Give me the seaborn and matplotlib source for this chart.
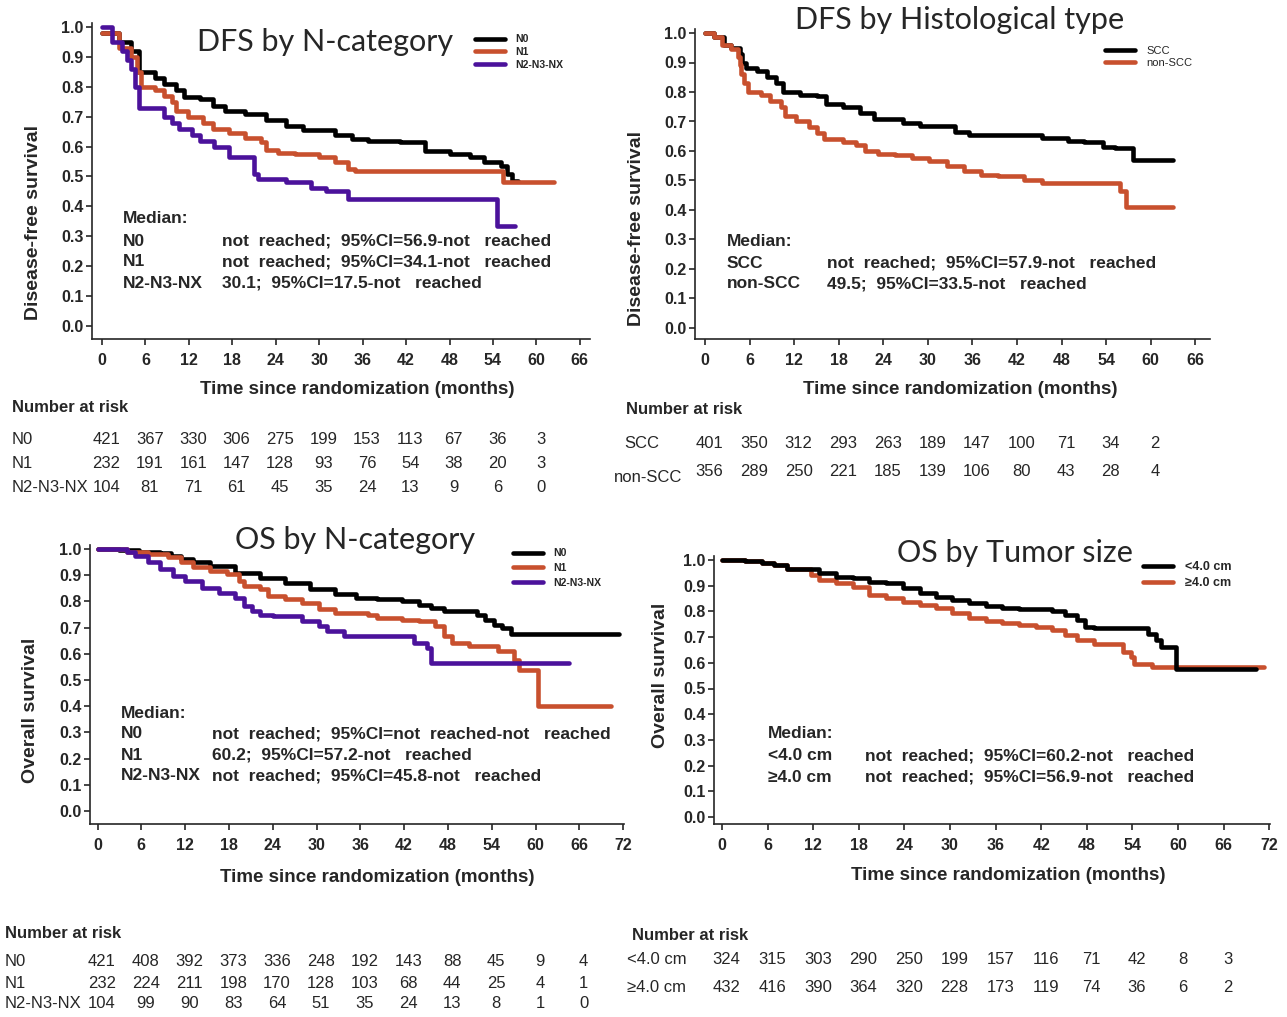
import numpy as np
import pandas as pd
import matplotlib
matplotlib.use("Agg")
import matplotlib.pyplot as plt
import matplotlib.transforms as mtrans
import seaborn as sns

sns.set_style("ticks")
plt.rcParams["font.family"] = ["Liberation Sans", "DejaVu Sans"]

#------------------------
# data
#------------------------
BLACK = "#000000"
ORANGE = "#c8502e"
PURPLE = "#4b129b"

# DFS by N-category
dfs_n0_t = [0, 2.3, 4.0, 5.1, 7.3, 8.5, 10.2, 11.3, 13.6, 15.3, 17.0, 19.8, 22.6, 25.4, 27.7,
            32.2, 34.5, 36.7, 41.2, 44.6, 48.0, 50.8, 52.8, 55.1, 56.0, 56.6, 57.5]
dfs_n0_s = [0.98, 0.95, 0.92, 0.85, 0.83, 0.81, 0.79, 0.765, 0.76, 0.735, 0.72, 0.71, 0.69, 0.67, 0.655,
            0.64, 0.625, 0.62, 0.615, 0.585, 0.575, 0.565, 0.55, 0.535, 0.51, 0.485, 0.485]
dfs_n1_t = [0, 2.3, 4.0, 4.8, 5.4, 7.3, 8.5, 9.6, 10.2, 11.9, 14.0, 15.3, 17.5, 19.8, 22.0, 22.6,
            24.3, 26.6, 30.0, 32.2, 34.0, 35.0, 55.4, 62.4]
dfs_n1_s = [0.98, 0.93, 0.90, 0.85, 0.80, 0.79, 0.77, 0.75, 0.72, 0.70, 0.68, 0.66, 0.645, 0.63, 0.615, 0.59,
            0.58, 0.575, 0.565, 0.55, 0.525, 0.52, 0.48, 0.48]
dfs_n2_t = [0, 1.4, 2.8, 3.4, 4.0, 4.5, 5.1, 8.5, 9.6, 10.7, 12.4, 13.6, 15.5, 17.5, 21.0, 21.6,
            25.4, 28.8, 31.0, 34.0, 54.5, 57.0]
dfs_n2_s = [1.0, 0.95, 0.92, 0.89, 0.86, 0.80, 0.73, 0.70, 0.68, 0.66, 0.64, 0.62, 0.60, 0.565, 0.51, 0.49,
            0.48, 0.46, 0.45, 0.425, 0.335, 0.335]

# DFS by histological type
dfs_scc_t = [0, 1.2, 2.6, 3.5, 4.7, 5.0, 5.5, 7.0, 8.4, 9.6, 10.5, 12.8, 15.1, 16.3, 18.6, 20.9, 22.7,
             26.7, 29.0, 33.7, 35.5, 45.3, 48.8, 51.0, 53.5, 55.2, 57.6, 63.0]
dfs_scc_s = [1.0, 0.985, 0.96, 0.95, 0.93, 0.90, 0.88, 0.87, 0.85, 0.83, 0.80, 0.79, 0.785, 0.76, 0.75, 0.73, 0.71,
             0.695, 0.685, 0.665, 0.655, 0.645, 0.635, 0.63, 0.615, 0.61, 0.57, 0.57]
dfs_non_t = [0, 1.2, 2.3, 3.5, 4.4, 4.7, 4.9, 5.2, 5.8, 7.6, 8.7, 10.2, 10.8, 12.2, 14.0, 15.1, 16.0,
             18.6, 20.3, 21.5, 23.3, 25.6, 27.9, 30.2, 32.6, 34.9, 37.2, 39.5, 43.0, 45.3, 55.8, 56.7, 63.0]
dfs_non_s = [1.0, 0.985, 0.96, 0.945, 0.92, 0.89, 0.86, 0.83, 0.80, 0.79, 0.77, 0.75, 0.72, 0.70, 0.68, 0.66, 0.64,
             0.63, 0.62, 0.60, 0.59, 0.585, 0.575, 0.565, 0.548, 0.531, 0.52, 0.514, 0.503, 0.49, 0.465, 0.41, 0.41]

# OS by N-category
os_n0_t = [0, 2.9, 5.7, 8.6, 10.0, 11.4, 13.1, 15.4, 18.9, 22.3, 25.7, 29.1, 32.6, 35.4, 38.3, 41.7,
           44.0, 45.7, 47.4, 49.7, 52.0, 53.1, 54.3, 55.4, 56.6, 71.4]
os_n0_s = [1.0, 0.995, 0.99, 0.985, 0.974, 0.96, 0.949, 0.936, 0.91, 0.89, 0.872, 0.846, 0.827, 0.814, 0.808, 0.80,
           0.788, 0.776, 0.765, 0.763, 0.75, 0.73, 0.71, 0.70, 0.676, 0.676]
os_n1_t = [0, 4.0, 6.9, 9.7, 11.4, 13.1, 15.4, 17.7, 19.4, 20.0, 22.3, 23.4, 25.7, 28.0, 30.3, 32.6,
           37.1, 38.3, 41.7, 44.0, 46.3, 47.4, 48.6, 50.9, 54.9, 57.1, 57.7, 60.3, 70.3]
os_n1_s = [1.0, 0.99, 0.98, 0.968, 0.95, 0.93, 0.917, 0.904, 0.878, 0.86, 0.846, 0.82, 0.808, 0.795, 0.77, 0.756,
           0.75, 0.737, 0.73, 0.724, 0.705, 0.667, 0.641, 0.628, 0.609, 0.577, 0.538, 0.40, 0.40]
os_n2_t = [0, 4.0, 5.1, 6.9, 8.6, 10.3, 12.0, 14.3, 16.6, 18.9, 20.0, 21.1, 22.3, 24.0, 28.0, 30.3,
           31.4, 33.7, 43.4, 45.1, 45.7, 64.6]
os_n2_s = [1.0, 0.99, 0.974, 0.949, 0.923, 0.897, 0.878, 0.853, 0.833, 0.814, 0.782, 0.763, 0.75, 0.746, 0.724, 0.705,
           0.686, 0.667, 0.641, 0.622, 0.564, 0.564]

# OS by tumor size
os_small_t = [0, 3.0, 5.2, 6.8, 8.5, 12.8, 15.0, 17.2, 19.4, 21.6, 23.8, 26.0, 28.1, 30.3, 32.5, 34.7,
              36.9, 39.1, 43.4, 45.1, 46.7, 47.8, 48.9, 56.0, 57.1, 57.7, 59.8, 70.2]
os_small_s = [1.0, 0.997, 0.99, 0.98, 0.964, 0.948, 0.935, 0.929, 0.916, 0.909, 0.89, 0.87, 0.857, 0.844, 0.831, 0.82,
              0.814, 0.808, 0.80, 0.786, 0.766, 0.74, 0.734, 0.714, 0.688, 0.662, 0.574, 0.574]
os_large_t = [0, 3.0, 5.2, 6.8, 8.5, 11.7, 12.8, 15.0, 17.2, 19.4, 21.6, 23.8, 26.0, 28.1, 30.3, 32.5,
              34.7, 36.9, 39.1, 41.3, 43.4, 45.1, 46.7, 48.9, 52.7, 53.8, 54.2, 56.6, 71.3]
os_large_s = [1.0, 0.997, 0.99, 0.98, 0.964, 0.942, 0.922, 0.909, 0.896, 0.864, 0.851, 0.838, 0.825, 0.812, 0.792, 0.773,
              0.764, 0.756, 0.747, 0.74, 0.727, 0.708, 0.69, 0.675, 0.643, 0.623, 0.597, 0.584, 0.584]

# numbers at risk
risk_dfs_n = {"N0": [421, 367, 330, 306, 275, 199, 153, 113, 67, 36, 3],
              "N1": [232, 191, 161, 147, 128, 93, 76, 54, 38, 20, 3],
              "N2-N3-NX": [104, 81, 71, 61, 45, 35, 24, 13, 9, 6, 0]}
risk_dfs_h = {"SCC": [401, 350, 312, 293, 263, 189, 147, 100, 71, 34, 2],
              "non-SCC": [356, 289, 250, 221, 185, 139, 106, 80, 43, 28, 4]}
risk_os_n = {"N0": [421, 408, 392, 373, 336, 248, 192, 143, 88, 45, 9, 4],
             "N1": [232, 224, 211, 198, 170, 128, 103, 68, 44, 25, 4, 1],
             "N2-N3-NX": [104, 99, 90, 83, 64, 51, 35, 24, 13, 8, 1, 0]}
risk_os_t = {"<4.0 cm": [324, 315, 303, 290, 250, 199, 157, 116, 71, 42, 8, 3],
             "\u22654.0 cm": [432, 416, 390, 364, 320, 228, 173, 119, 74, 36, 6, 2]}

W, H = 1287, 1017
fig = plt.figure(figsize=(W / 100, H / 100), dpi=100)


def fx(x):
    return x / W


def fy(y):
    return 1 - y / H


def ftext(x, y, s, **kw):
    kw.setdefault("va", "center")
    kw.setdefault("ha", "left")
    fig.text(fx(x), fy(y), s, **kw)


def km_axes(t0, pxm, y1, y0, left, right, bottom, tmax, ylab):
    top = y1 - 4
    ax = fig.add_axes([fx(left), fy(bottom), (right - left) / W, (bottom - top) / H])
    ax.set_xlim((left - t0) / pxm, (right - t0) / pxm)
    ppu = y0 - y1
    ax.set_ylim(-(bottom - y0) / ppu, 1 + (y1 - top) / ppu)
    ax.set_xticks(np.arange(0, tmax + 1, 6))
    ax.set_yticks(np.round(np.arange(0, 1.01, 0.1), 1))
    ax.set_yticklabels([f"{v:.1f}" for v in np.arange(0, 1.01, 0.1)])
    ax.tick_params(axis="both", direction="out", length=4, width=1.2, labelsize=11.5)
    ax.tick_params(axis="x", pad=6)
    ax.tick_params(axis="y", pad=2)
    for lab in ax.get_xticklabels() + ax.get_yticklabels():
        lab.set_fontweight("bold")
    sns.despine(ax=ax)
    ax.spines["left"].set_linewidth(1.2)
    ax.spines["bottom"].set_linewidth(1.2)
    ax.set_ylabel(ylab, fontsize=14, fontweight="bold")
    ax.set_xlabel("Time since randomization (months)", fontsize=13.5, fontweight="bold")
    return ax


def place_labels(ax, ylx, yly, xlx, xly):
    # label coords: ylabel anchored on its right edge, xlabel on its top edge
    ax.yaxis.set_label_coords(fx(ylx + 9), fy(yly), transform=fig.transFigure)
    ax.xaxis.set_label_coords(fx(xlx), fy(xly - 9), transform=fig.transFigure)


def curves(ax, groups):
    for name, t, s, c in groups:
        sns.lineplot(x=t, y=s, color=c, lw=3.3, drawstyle="steps-post", estimator=None,
                     ax=ax, label=name, clip_on=False)


def km_legend(ax, order, x, yc, size, weight, spacing):
    h, l = ax.get_legend_handles_labels()
    d = dict(zip(l, h))
    ax.legend([d[k] for k in order], order, loc="center left",
              bbox_to_anchor=(fx(x), fy(yc)), bbox_transform=fig.transFigure,
              frameon=False, borderpad=0, borderaxespad=0, handlelength=30 / (size * 1.39),
              handletextpad=1.0, labelspacing=spacing,
              prop={"size": size, "weight": weight})


def risk_table(ax, table, x_lab, title_y, rows_y, title_x, lab_x=None):
    tr = mtrans.blended_transform_factory(ax.transData, fig.transFigure)
    ftext(title_x, title_y, "Number at risk", fontsize=12, fontweight="bold")
    for i, (name, vals) in enumerate(table.items()):
        lx = x_lab if lab_x is None else lab_x[i]
        ly = rows_y[i] if lab_x is None else rows_y[i] + (5 if i == 1 else 0)
        ftext(lx, ly, name, fontsize=12)
        for k, v in enumerate(vals):
            ax.text(6 * k + 0.6, fy(rows_y[i]), str(v), transform=tr, ha="center", va="center",
                    fontsize=12, clip_on=False)


def median_block(x1, x2, ys, rows):
    ftext(x1, ys[0], "Median:", fontsize=12.5, fontweight="bold")
    for y, (a, b) in zip(ys[1:], rows):
        ftext(x1, y, a, fontsize=12.5, fontweight="bold")
        ftext(x2, y, b, fontsize=12.5, fontweight="bold")


title_font = dict(fontsize=22, family=["Lato", "DejaVu Sans"], ha="center", va="center")

# ---------------- panel 1: DFS by N-category
ax1 = km_axes(102, 7.24, 27, 326, 92, 590, 339, 66, "Disease-free survival")
curves(ax1, [("N0", dfs_n0_t, dfs_n0_s, BLACK), ("N1", dfs_n1_t, dfs_n1_s, ORANGE),
             ("N2-N3-NX", dfs_n2_t, dfs_n2_s, PURPLE)])
km_legend(ax1, ["N0", "N1", "N2-N3-NX"], 475, 52, 7.5, "bold", 0.25)
place_labels(ax1, 33, 222, 357, 390)
ftext(325, 42, "DFS by N-category", **title_font)
median_block(123, 222, [218, 241, 262, 283],
             [("N0", "not  reached;  95%CI=56.9-not   reached"),
              ("N1", "not  reached;  95%CI=34.1-not   reached"),
              ("N2-N3-NX", "30.1;  95%CI=17.5-not   reached")])
risk_table(ax1, risk_dfs_n, 12, 407, [440, 464, 488], 12)

# ---------------- panel 2: DFS by histological type
ax2 = km_axes(705, 7.43, 33, 328, 695, 1210, 339, 66, "Disease-free survival")
curves(ax2, [("SCC", dfs_scc_t, dfs_scc_s, BLACK), ("non-SCC", dfs_non_t, dfs_non_s, ORANGE)])
km_legend(ax2, ["SCC", "non-SCC"], 1105, 57, 8, "normal", 0.2)
place_labels(ax2, 636, 228, 960, 390)
ftext(960, 20, "DFS by Histological type", **title_font)
median_block(727, 827, [241, 263, 284],
             [("SCC", "not  reached;  95%CI=57.9-not   reached"),
              ("non-SCC", "49.5;  95%CI=33.5-not   reached")])
risk_table(ax2, risk_dfs_h, 624, 409, [443, 472], 626, lab_x=[624, 614])

# ---------------- panel 3: OS by N-category
ax3 = km_axes(97.5, 7.3, 549, 811, 90, 624, 824, 72, "Overall survival")
curves(ax3, [("N0", os_n0_t, os_n0_s, BLACK), ("N1", os_n1_t, os_n1_s, ORANGE),
             ("N2-N3-NX", os_n2_t, os_n2_s, PURPLE)])
km_legend(ax3, ["N0", "N1", "N2-N3-NX"], 513, 568, 7.5, "bold", 0.45)
place_labels(ax3, 30, 710, 377, 878)
ftext(355, 540, "OS by N-category", **title_font)
median_block(121, 212, [713, 734, 755, 776],
             [("N0", "not  reached;  95%CI=not  reached-not   reached"),
              ("N1", "60.2;  95%CI=57.2-not   reached"),
              ("N2-N3-NX", "not  reached;  95%CI=45.8-not   reached")])
risk_table(ax3, risk_os_n, 5, 934, [961, 983, 1004], 5)

# ---------------- panel 4: OS by tumor size
ax4 = km_axes(722, 7.6, 560, 817, 714, 1270, 824, 72, "Overall survival")
curves(ax4, [("\u22654.0 cm", os_large_t, os_large_s, ORANGE), ("<4.0 cm", os_small_t, os_small_s, BLACK)])
km_legend(ax4, ["<4.0 cm", "\u22654.0 cm"], 1143, 575, 9, "bold", 0.3)
place_labels(ax4, 660, 675, 1008, 876)
ftext(1015, 553, "OS by Tumor size", **title_font)
median_block(768, 865, [733, 756, 777],
             [("<4.0 cm", "not  reached;  95%CI=60.2-not   reached"),
              ("\u22654.0 cm", "not  reached;  95%CI=56.9-not   reached")])
risk_table(ax4, risk_os_t, 627, 935, [960, 987], 632)

fig.savefig("out.png", dpi=100)
